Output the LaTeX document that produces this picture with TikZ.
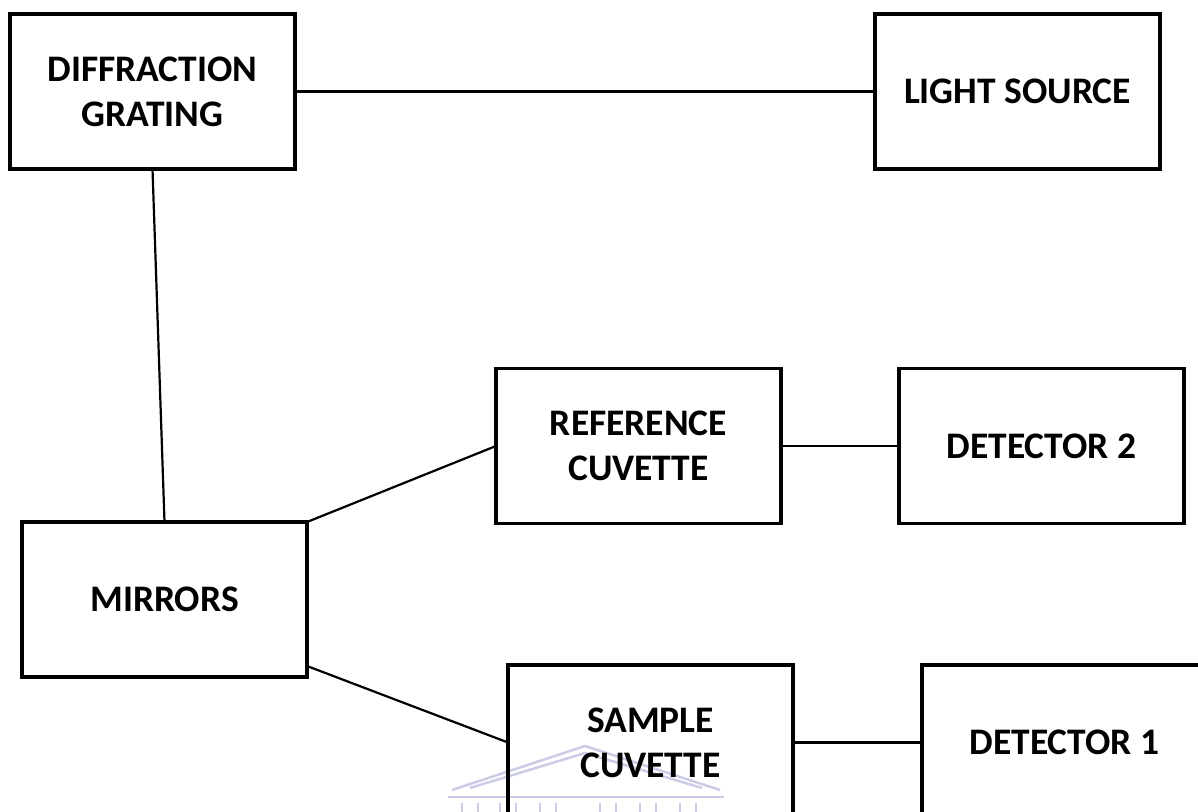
\documentclass[tikz,border=0pt]{standalone}
\usepackage{fontspec}
\setmainfont{Carlito}
\definecolor{crestblue}{RGB}{204,204,230}
\begin{document}
\begin{tikzpicture}[x=1bp,y=-1bp,
  block/.style={draw=black,line width=3.5bp,minimum width=285bp,
    minimum height=155bp,inner sep=0pt,outer sep=0pt,align=center,
    font=\bfseries\fontsize{37.5bp}{45bp}\selectfont},
  link/.style={draw=black,line width=2.2bp},
  crest/.style={draw=crestblue,line width=2.5bp}]
\useasboundingbox (0,0) rectangle (1198,812);
\fill[white] (0,0) rectangle (1198,812);
\begin{scope}
\clip (0,0) rectangle (1198,812);
% faint crest in the lower middle
\draw[crest] (452,790) -- (585,746) -- (720,790);
\draw[crest] (470,788) -- (585,753) -- (702,788);
\draw[crest] (448,797) -- (724,797);
\foreach \cx in {462,478,500,516,540,556,600,616,640,656,680,696}
  \draw[crest] (\cx,803) -- (\cx,812);
% blocks
\node[block] (dg) at (152.5,91.5) {DIFFRACTION\\GRATING};
\node[block] (ls) at (1017.5,91.5) {LIGHT SOURCE};
\node[block] (rc) at (638.5,446) {REFERENCE\\CUVETTE};
\node[block] (d2) at (1041.5,446) {DETECTOR 2};
\node[block] (mi) at (164.5,599.5) {MIRRORS};
\node[block] (sc) at (650.5,742.5) {SAMPLE\\CUVETTE};
\node[block] (d1) at (1064.5,742.5) {DETECTOR 1};
% connectors
\draw[link] (dg.east) -- (ls.west);
\draw[link] (dg.south) -- (mi.north);
\draw[link] (mi.north east) -- (rc.west);
\draw[link] ([yshift=11bp]mi.south east) -- (sc.west);
\draw[link] (rc.east) -- (d2.west);
\draw[link] (sc.east) -- (d1.west);
\end{scope}
\end{tikzpicture}
\end{document}
